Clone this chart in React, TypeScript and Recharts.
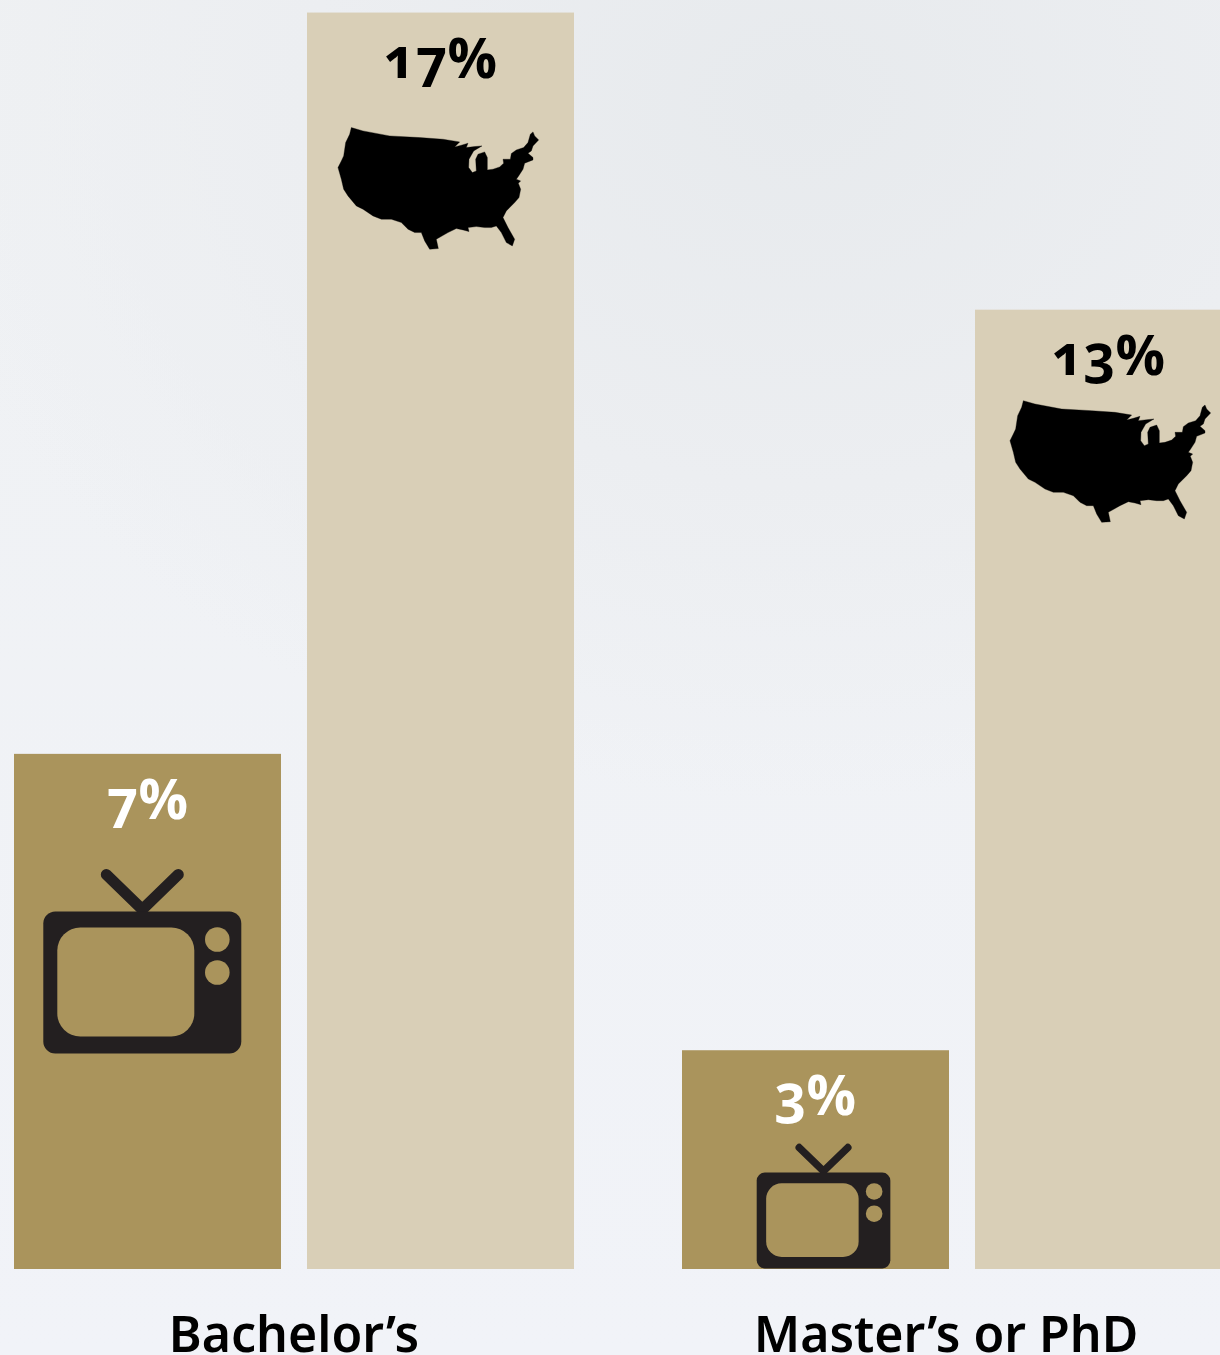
import { BarChart, Bar, XAxis, YAxis, LabelList } from "recharts";

const degrees = ["Bachelor’s", "Master’s or PhD"];
const tvShare = [6.97, 2.96];
const usShare = [17, 12.98];
const tvLabels = ["7%", "3%"];
const usLabels = ["17%", "13%"];

const data = degrees.map((degree, i) => ({
  degree,
  tv: tvShare[i],
  us: usShare[i],
  tvLabel: tvLabels[i],
  usLabel: usLabels[i],
}));

const GOLD = "#aa945c";
const SAND = "#d9cfb7";
const INK = "#231f20";
const NUM_FONT = "'Open Sans', sans-serif";
const TICK_FONT = "'Noto Sans', sans-serif";

// where the icons sit inside each bar
const tvPlacement = [
  { dx: 29.3, dy: 157.7, scale: 1 },
  { dx: 74.7, dy: 122.3, scale: 0.675 },
];
const usPlacement = [
  { dx: 31, dy: 115, scale: 1 },
  { dx: 35, dy: 91, scale: 1 },
];
const tickShift = [0, -16];

// drawn at 3x so it is scaled down
const US_PATH =
  "M95 325L130 335L210 350L300 355L370 360L420 368L405 383L425 378L445 372L440 385L465 382L487 380L462 395L448 420L447 445L458 460L470 455L468 420L475 405L495 398L503 415L503 452L520 450L540 443L552 432L550 420L572 420L575 403L590 392L612 385L625 370L632 345L640 338L645 350L657 362L640 380L635 395L625 402L640 415L640 422L615 432L610 450L597 470L590 480L603 485L596 492L603 510L598 535L585 550L560 575L550 595L565 625L585 660L578 680L560 670L545 640L530 620L515 625L495 625L470 622L445 625L448 637L430 632L410 628L385 640L350 660L356 688L330 690L315 665L305 640L285 640L265 630L245 610L215 600L185 600L160 590L130 570L110 560L85 530L72 510L65 480L55 445L65 425L72 410L78 370L90 345Z";

function TvIcon({ x, y, scale }: { x: number; y: number; scale: number }) {
  return (
    <g transform={`translate(${x} ${y}) scale(${scale})`}>
      <path d="M63 -37L99 -2L135 -37" fill="none" stroke={INK} strokeWidth={11} strokeLinecap="round" strokeLinejoin="round" />
      <rect width={198} height={142} rx={12} fill={INK} />
      <rect x={14} y={16} width={137} height={109} rx={23} fill={GOLD} />
      <circle cx={174} cy={28} r={12.3} fill={GOLD} />
      <circle cx={174} cy={61} r={12.3} fill={GOLD} />
    </g>
  );
}

function TvBar(props: any) {
  const { x, y, width, height, index } = props;
  const p = tvPlacement[index];
  return (
    <g>
      <rect x={x} y={y} width={width} height={height} fill={GOLD} />
      <TvIcon x={x + p.dx} y={y + p.dy} scale={p.scale} />
    </g>
  );
}

function UsBar(props: any) {
  const { x, y, width, height, index } = props;
  const p = usPlacement[index];
  return (
    <g>
      <rect x={x} y={y} width={width} height={height} fill={SAND} />
      <g transform={`translate(${x + p.dx} ${y + p.dy}) scale(${p.scale / 3})`}>
        <path d={US_PATH} transform="translate(-55 -325)" fill="#000" stroke="#000" strokeWidth={1} strokeLinejoin="round" />
      </g>
    </g>
  );
}

function DegreeTick(props: any) {
  const { x, y, payload, index } = props;
  return (
    <text x={x + tickShift[index]} y={y + 77} textAnchor="middle" fontFamily={TICK_FONT} fontWeight={600} fontSize={50} fill="#000">
      {payload.value}
    </text>
  );
}

const numStyle = { fontFamily: NUM_FONT, fontWeight: 700, fontSize: 55, fontVariantNumeric: "oldstyle-nums" };

export default function App() {
  return (
    <div
      style={{
        position: "absolute",
        left: 0,
        top: 0,
        width: 1220,
        height: 1355,
        overflow: "hidden",
        background:
          "radial-gradient(ellipse 900px 700px at 800px 100px, #e7eaed 0%, #eceef1 55%, rgba(240,242,246,0) 100%), linear-gradient(180deg, #eff1f3 0%, #f1f3f8 100%)",
      }}
    >
      <div style={{ position: "absolute", left: -40, top: 0 }}>
        <BarChart
          width={1336}
          height={1355}
          data={data}
          margin={{ top: 0, right: 0, bottom: 0, left: 0 }}
          barSize={267}
          barGap={26}
        >
          <XAxis
            dataKey="degree"
            height={86}
            axisLine={false}
            tickLine={false}
            interval={0}
            tick={<DegreeTick />}
            tickMargin={0}
          />
          <YAxis hide domain={[0, 17.17]} />
          <Bar dataKey="tv" fill={GOLD} shape={<TvBar />} isAnimationActive={false}>
            <LabelList dataKey="tvLabel" position="insideTop" offset={26} fill="#fff" style={numStyle} />
          </Bar>
          <Bar dataKey="us" fill={SAND} shape={<UsBar />} isAnimationActive={false}>
            <LabelList dataKey="usLabel" position="insideTop" offset={26} fill="#000" style={numStyle} />
          </Bar>
        </BarChart>
      </div>
    </div>
  );
}
